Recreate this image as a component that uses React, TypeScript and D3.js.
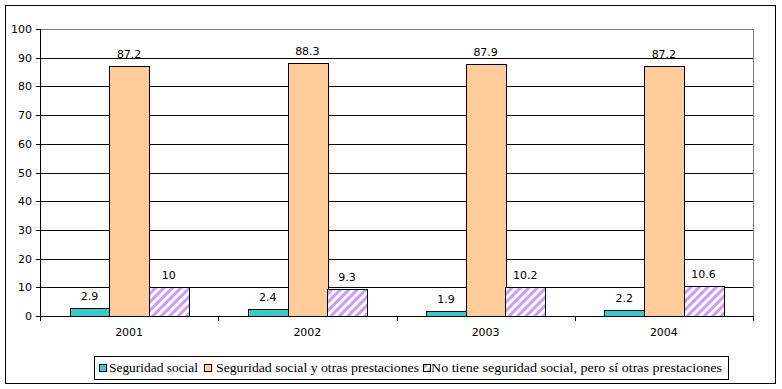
import React from "react";
import * as d3 from "d3";

const years = ["2001", "2002", "2003", "2004"];
const seguridadSocial = [2.9, 2.4, 1.9, 2.2];
const seguridadYOtras = [87.2, 88.3, 87.9, 87.2];
const noTiene = [10, 9.3, 10.2, 10.6];
const seriesNames = [
  "Seguridad social",
  "Seguridad social y otras prestaciones",
  "No tiene seguridad social, pero sí otras prestaciones",
];
const yTicks = [0, 10, 20, 30, 40, 50, 60, 70, 80, 90, 100];

export default function App() {
  const W = 782, H = 389;
  const left = 40, right = 753, top = 29, bottom = 316;
  const x = d3.scaleBand().domain(years).range([left, right]).paddingInner(0).paddingOuter(0);
  const y = d3.scaleLinear().domain([0, 100]).range([bottom, top]);
  const bw = x.bandwidth();
  const barW = bw / (3 + 1.5);
  const series = [seguridadSocial, seguridadYOtras, noTiene];
  const fills = ["#33CCCC", "#FFCC99", "url(#hatch)"];
  const tickFont = "'DejaVu Sans', Verdana, sans-serif";
  const legFont = "'Liberation Serif', 'DejaVu Serif', serif";
  const legendSquares = [99, 204, 423];
  const legendText = [109, 216, 431];
  const legendTextW = [89, 203, 291];
  return (
    <svg width={W} height={H} style={{ position: "absolute", left: 0, top: 0 }}>
      <defs>
        <pattern id="hatch" patternUnits="userSpaceOnUse" width="6" height="6" patternTransform="rotate(45)">
          <rect width="6" height="6" fill="#ffffff" />
          <rect width="3" height="6" fill="#CC99FF" />
        </pattern>
      </defs>
      <rect x={0} y={0} width={W} height={H} fill="#fff" />
      <rect x={5.5} y={5.5} width={770} height={378} fill="#fff" stroke="#000" strokeWidth={1} />
      {yTicks.map((t) => (
        <line key={t} x1={left} x2={right} y1={Math.round(y(t)) + 0.5} y2={Math.round(y(t)) + 0.5}
          stroke={t === 100 ? "#808080" : "#000"} strokeWidth={1} />
      ))}
      <line x1={right + 0.5} x2={right + 0.5} y1={top} y2={bottom} stroke="#808080" />
      {years.map((yr, i) =>
        series.map((s, k) => {
          const bx = (x(yr) as number) + bw / 2 - 1.5 * barW + k * barW;
          const by = y(s[i]);
          return (
            <g key={yr + k}>
              <rect x={Math.round(bx) + 0.5} y={Math.round(by) + 0.5} width={Math.round(barW)}
                height={Math.round(bottom - by)} fill={fills[k]} stroke="#000" strokeWidth={1} />
              <text x={bx + barW / 2} y={by - 8} textAnchor="middle" fontFamily={tickFont} fontSize={11}>
                {String(s[i])}
              </text>
            </g>
          );
        })
      )}
      <line x1={left + 0.5} x2={left + 0.5} y1={top} y2={bottom + 0.5} stroke="#000" />
      <line x1={left} x2={right + 1} y1={bottom + 0.5} y2={bottom + 0.5} stroke="#000" />
      {yTicks.map((t) => (
        <g key={"yt" + t}>
          <line x1={left - 4} x2={left} y1={Math.round(y(t)) + 0.5} y2={Math.round(y(t)) + 0.5} stroke="#000" />
          <text x={left - 8} y={y(t) + 4} textAnchor="end" fontFamily={tickFont} fontSize={11}>{t}</text>
        </g>
      ))}
      {[...years.map((yr) => x(yr) as number), right].map((v, i) => (
        <line key={"xt" + i} x1={Math.round(v) + 0.5} x2={Math.round(v) + 0.5} y1={bottom} y2={bottom + 5} stroke="#000" />
      ))}
      {years.map((yr) => (
        <text key={"xl" + yr} x={(x(yr) as number) + bw / 2} y={336} textAnchor="middle" fontFamily={tickFont} fontSize={11}>{yr}</text>
      ))}
      <rect x={94.5} y={356.5} width={634} height={23} fill="#fff" stroke="#000" />
      {seriesNames.map((n, k) => (
        <g key={n}>
          <rect x={legendSquares[k] + 0.5} y={364.5} width={7} height={7} fill={fills[k]} stroke="#000" />
          <text x={legendText[k]} y={372} fontFamily={legFont} fontSize={12}
            textLength={legendTextW[k]} lengthAdjust="spacingAndGlyphs">{n}</text>
        </g>
      ))}
    </svg>
  );
}
